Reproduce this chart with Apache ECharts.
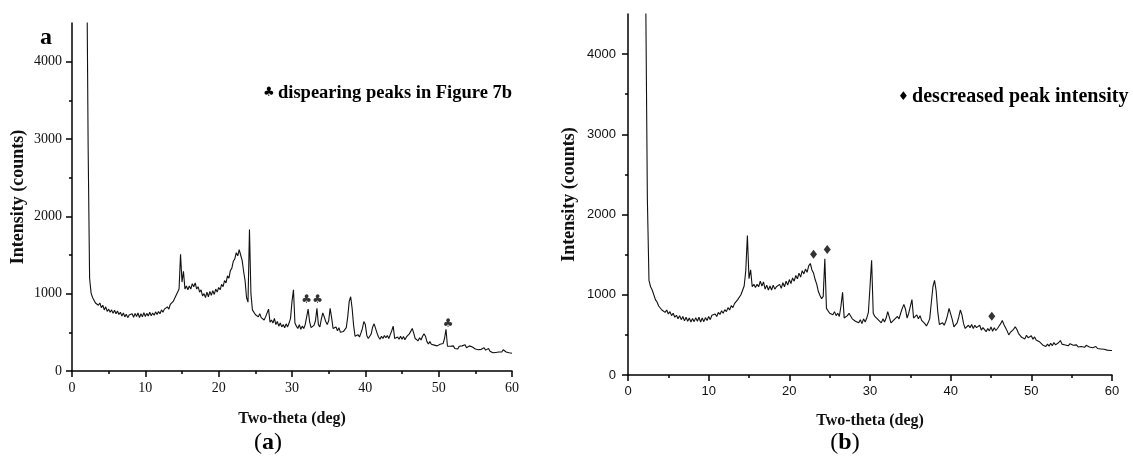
<!DOCTYPE html>
<html><head><meta charset="utf-8">
<script src="https://cdn.jsdelivr.net/npm/echarts@6/dist/echarts.min.js"></script>
<style>html,body{margin:0;padding:0;background:#fff}#c{width:1133px;height:465px}</style>
</head><body><div id="c"></div>
<script>
// Sampling of the two-theta scans (deg)
const thetaStart = 2.0;
const thetaStep = 0.2;

// Panel (a) intensities, 2.0 .. 60.0 deg
const intensityA = [
  5500, 2900, 1200, 1010, 950, 960, 880, 900, 850, 880,
  820, 850, 790, 830, 770, 800, 760, 790, 745, 785,
  740, 775, 730, 760, 710, 750, 700, 735, 690, 725,
  700, 740, 695, 745, 705, 750, 690, 740, 700, 755,
  705, 745, 710, 760, 715, 750, 720, 765, 730, 770,
  740, 790, 760, 800, 780, 830, 800, 860, 850, 900,
  910, 980, 960, 1060, 1510, 1150, 1290, 1060, 1100, 1050,
  1100, 1060, 1130, 1090, 1140, 1060, 1090, 1020, 1050, 970,
  1000, 950, 1020, 960, 1030, 980, 1040, 990, 1060, 1020,
  1080, 1050, 1120, 1090, 1170, 1140, 1230, 1200, 1300, 1330,
  1420, 1450, 1530, 1490, 1570, 1500, 1430, 1290, 1170, 950,
  890, 1830, 1000, 790, 770, 730, 750, 700, 740, 690,
  700, 660, 700, 720, 800, 630, 660, 620, 680, 600,
  640, 580, 620, 570, 600, 560, 610, 570, 620, 680,
  900, 1050, 620, 580, 550, 600, 540, 580, 550, 600,
  620, 800, 640, 560, 540, 590, 650, 810, 600, 570,
  670, 750, 700, 640, 600, 650, 810, 690, 550, 530,
  570, 520, 560, 500, 480, 510, 490, 560, 700, 900,
  960, 810, 590, 450, 430, 470, 440, 490, 550, 640,
  600, 460, 420, 450, 480, 570, 610, 590, 490, 440,
  410, 450, 420, 460, 430, 460, 420, 470, 520, 580,
  420, 400, 440, 410, 450, 410, 445, 405, 440, 430,
  480, 490, 550, 490, 420, 400, 390, 430, 400, 450,
  480, 450, 380, 350, 380, 345, 370, 335, 355, 325,
  315, 345, 325, 355, 420, 540, 320, 295, 320, 295,
  325, 290, 315, 285, 320, 295, 325, 305, 340, 300,
  290, 325, 300, 310, 295, 285, 305, 275, 300, 280,
  275, 300, 270, 295, 290, 255, 260, 235, 255, 240,
  265, 245, 270, 245, 275, 255, 245, 270, 235, 255,
  230
];

// Panel (b) intensities, 2.0 .. 60.0 deg
const intensityB = [
  5200, 4700, 2200, 1180, 1100, 1060, 1040, 940, 910, 860,
  870, 810, 830, 780, 810, 760, 790, 740, 770, 720,
  745, 700, 740, 690, 730, 675, 720, 670, 710, 660,
  705, 665, 715, 670, 720, 660, 710, 665, 715, 680,
  730, 690, 745, 740, 760, 730, 780, 755, 800, 770,
  815, 790, 840, 810, 865, 840, 890, 880, 940, 950,
  1000, 1020, 1110, 1300, 1740, 1200, 1310, 1100, 1130, 1090,
  1130, 1100, 1170, 1110, 1160, 1070, 1120, 1060, 1110, 1060,
  1120, 1070, 1100, 1090, 1130, 1080, 1150, 1100, 1170, 1120,
  1190, 1140, 1210, 1170, 1240, 1200, 1270, 1220, 1300, 1260,
  1320, 1280, 1360, 1390, 1310, 1270, 1190, 1130, 1040, 990,
  950, 980, 1450, 830, 810, 770, 780, 750, 790, 740,
  770, 730, 860, 1030, 710, 690, 740, 770, 750, 700,
  720, 670, 690, 650, 690, 640, 700, 660, 710, 780,
  1100, 1430, 770, 730, 710, 690, 670, 650, 700, 660,
  710, 790, 800, 650, 640, 690, 710, 730, 700, 770,
  830, 880, 820, 710, 770, 780, 940, 710, 690, 750,
  700, 740, 680, 700, 640, 610, 650, 700, 900, 1100,
  1180, 1050, 790, 630, 610, 650, 620, 670, 740, 830,
  850, 690, 600, 620, 650, 720, 810, 750, 640, 580,
  570, 620, 590, 630, 580, 620, 590, 600, 620, 560,
  590, 610, 540, 580, 550, 600, 545, 590, 555, 580,
  610, 640, 680, 630, 590, 550, 500, 530, 530, 570,
  600, 570, 520, 505, 470, 480, 450, 495, 465, 470,
  490, 445, 475, 435, 440, 415, 405, 375, 380, 355,
  385, 360, 395, 365, 405, 375, 395, 405, 430, 385,
  405, 375, 395, 365, 390, 370, 370, 355, 375, 350,
  370, 355, 375, 345, 370, 380, 350, 355, 340, 345,
  355, 330, 350, 325, 345, 320, 340, 310, 325, 305,
  305
];

// Marker positions [two-theta, intensity]
const clubMarksA = [[32.0, 915], [33.5, 915], [51.3, 604]];
const diamondMarksB = [[23.0, 1505], [24.7, 1563], [45.1, 732]];

// Axis ticks
const xMin = 0, xMax = 60, xInterval = 10;
const yMin = 0, yMax = 4500;
const yMajorTicks = [0, 1000, 2000, 3000, 4000];
const yMinorTicks = [500, 1500, 2500, 3500];

// Texts
const xAxisTitle = 'Two-theta (deg)';
const yAxisTitle = 'Intensity (counts)';

const toXY = arr => arr.map((v, i) => [+(thetaStart + i * thetaStep).toFixed(1), v]);

const SERIF = '"Liberation Serif", "Times New Roman", serif';
const SANS = '"Liberation Sans", Arial, sans-serif';
const AX = { color: '#000', width: 1.5 };
const plain = v => String(v);

function xAxisCfg(grid, font, size, gap) {
  return {
    type: 'value', gridIndex: grid, min: xMin, max: xMax, interval: xInterval,
    axisLine: { show: true, onZero: false, lineStyle: AX },
    axisTick: { show: true, length: 6, lineStyle: AX },
    minorTick: { show: true, splitNumber: 2, length: 3, lineStyle: AX },
    splitLine: { show: false },
    axisLabel: { fontFamily: font, fontSize: size, color: '#111', margin: 10, formatter: plain },
    name: xAxisTitle, nameLocation: 'middle', nameGap: gap,
    nameTextStyle: { fontFamily: SERIF, fontWeight: 'bold', fontSize: 16, color: '#111' }
  };
}
function yAxisCfg(grid, font, size, gap, margin) {
  return {
    type: 'value', gridIndex: grid, min: yMin, max: yMax, position: 'left',
    axisLine: { show: true, onZero: false, lineStyle: AX },
    axisTick: { show: true, length: 6, lineStyle: AX, customValues: yMajorTicks },
    splitLine: { show: false },
    axisLabel: { fontFamily: font, fontSize: size, color: '#111', margin: margin, customValues: yMajorTicks, formatter: plain },
    name: yAxisTitle, nameLocation: 'middle', nameGap: gap,
    nameTextStyle: { fontFamily: SERIF, fontWeight: 'bold', fontSize: 18, color: '#111' }
  };
}
function yMinorCfg(grid) {
  return {
    type: 'value', gridIndex: grid, min: yMin, max: yMax, position: 'left',
    axisLine: { show: false },
    axisTick: { show: true, length: 3, lineStyle: AX, customValues: yMinorTicks },
    axisLabel: { show: false },
    splitLine: { show: false }
  };
}

const chart = echarts.init(document.getElementById('c'), null, { renderer: 'canvas' });
chart.setOption({
  backgroundColor: '#fff',
  animation: false,
  grid: [
    { left: 72, top: 23, width: 440, bottom: 94 },
    { left: 628, top: 14, width: 484, bottom: 90 }
  ],
  xAxis: [ xAxisCfg(0, SERIF, 14, 40), xAxisCfg(1, SANS, 13, 38) ],
  yAxis: [ yAxisCfg(0, SERIF, 14, 45, 10), yAxisCfg(1, SANS, 13, 50, 12), yMinorCfg(0), yMinorCfg(1) ],
  series: [
    { type: 'line', xAxisIndex: 0, yAxisIndex: 0, data: toXY(intensityA), showSymbol: false, symbol: 'none',
      lineStyle: { color: '#111', width: 1.1 }, clip: true },
    { type: 'line', xAxisIndex: 1, yAxisIndex: 1, data: toXY(intensityB), showSymbol: false, symbol: 'none',
      lineStyle: { color: '#111', width: 1.1 }, clip: true },
    { type: 'scatter', xAxisIndex: 0, yAxisIndex: 0, data: clubMarksA, symbolSize: 1,
      itemStyle: { color: 'rgba(0,0,0,0)' },
      label: { show: true, position: 'inside', formatter: '♣', fontSize: 12, color: '#000', fontFamily: '"DejaVu Sans"' } },
    { type: 'scatter', xAxisIndex: 1, yAxisIndex: 1, data: diamondMarksB, symbol: 'diamond', symbolSize: [7, 9],
      itemStyle: { color: '#000' } }
  ],
  graphic: [
    { type: 'text', x: 40, y: 38, style: { text: 'a', font: 'bold 24px ' + SERIF, fill: '#000', verticalAlign: 'middle' } },
    { type: 'text', x: 263, y: 93, style: {
        text: '{s|♣} {t|dispearing peaks in Figure 7b}', verticalAlign: 'middle',
        rich: { s: { font: '13px "DejaVu Sans"', fill: '#000' }, t: { font: 'bold 18.5px ' + SERIF, fill: '#000' } } } },
    { type: 'text', x: 898, y: 97, style: {
        text: '{s|♦} {t|descreased peak intensity}', verticalAlign: 'middle',
        rich: { s: { font: '12px "DejaVu Sans"', fill: '#000' }, t: { font: 'bold 20px ' + SERIF, fill: '#000' } } } },
    { type: 'text', x: 268, y: 443, style: {
        text: '{p|(}{l|a}{p|)}', align: 'center', verticalAlign: 'middle',
        rich: { p: { font: '24px ' + SERIF, fill: '#000' }, l: { font: 'bold 24px ' + SERIF, fill: '#000' } } } },
    { type: 'text', x: 845, y: 443, style: {
        text: '{p|(}{l|b}{p|)}', align: 'center', verticalAlign: 'middle',
        rich: { p: { font: '24px ' + SERIF, fill: '#000' }, l: { font: 'bold 24px ' + SERIF, fill: '#000' } } } }
  ]
});
</script></body></html>
